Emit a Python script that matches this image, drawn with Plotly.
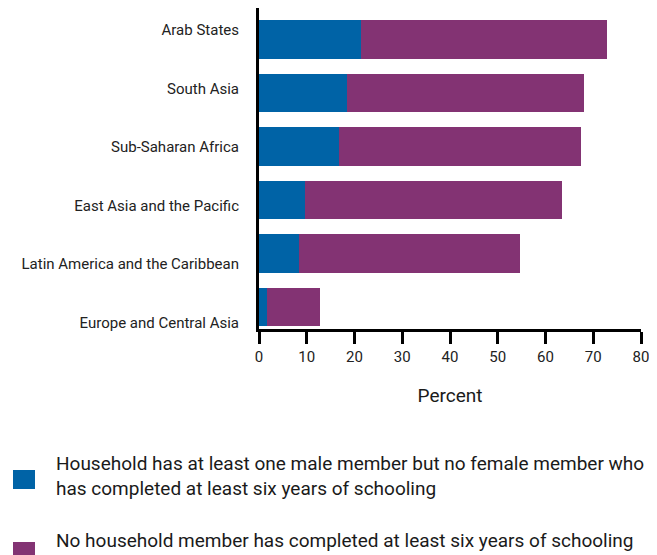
import plotly.graph_objects as go

# Regions, top to bottom
regions = [
    "Arab States",
    "South Asia",
    "Sub-Saharan Africa",
    "East Asia and the Pacific",
    "Latin America and the Caribbean",
    "Europe and Central Asia",
]

# Percent of households
male_only = [21.4, 18.4, 16.7, 9.6, 8.4, 1.6]
no_member = [51.5, 49.7, 50.7, 53.8, 46.2, 11.2]

series_names = [
    "Household has at least one male member but no female member who<br>has completed at least six years of schooling",
    "No household member has completed at least six years of schooling",
]
series_colors = ["#0063A6", "#833373"]

x_ticks = [0, 10, 20, 30, 40, 50, 60, 70, 80]

FONT = "Roboto, Arial, sans-serif"

# page has an 8px body margin, so the figure is a bit smaller than the window
OFF = 8
W, H = 657 - OFF, 555 - OFF
# plot area on screen: x 259..641, y 8..329
L, R, T, B = 259 - OFF, 657 - 641, 8 - OFF, 555 - 329
pw = W - L - R
ph = H - T - B


def px_x(p):
    return (p - OFF - L) / pw


def px_y(p):
    return (H - B - (p - OFF)) / ph


fig = go.Figure()

for vals, name, color in zip([male_only, no_member], series_names, series_colors):
    fig.add_trace(go.Bar(
        y=regions,
        x=vals,
        orientation="h",
        name=name,
        marker=dict(color=color, line=dict(width=0)),
        showlegend=False,
    ))

# the region labels sit on their own, slightly wider spaced axis
fig.add_trace(go.Scatter(
    y=regions, x=[None] * len(regions), yaxis="y2",
    mode="markers", showlegend=False, hoverinfo="skip",
))

# label centres on screen: first at y=30, spacing 58.5
lab0, lab_step = 30 - OFF, 58.5
y2_top = -(lab0 - T) / lab_step
y2_bot = (ph - (lab0 - T)) / lab_step

# bars sit a few pixels low in their slots
shift = 0.09

# hand-made legend (big squares, wrapped text)
legend_rows = [(476, 470, 489), (540, 542, 561)]
shapes = []
annotations = []
for (text_y, sq0, sq1), name, color in zip(legend_rows, series_names, series_colors):
    shapes.append(dict(
        type="rect", xref="paper", yref="paper",
        x0=px_x(13), x1=px_x(35), y0=px_y(sq0), y1=px_y(sq1),
        fillcolor=color, line=dict(width=0),
    ))
    annotations.append(dict(
        xref="paper", yref="paper", x=px_x(54), y=px_y(text_y),
        xanchor="left", yanchor="middle", align="left",
        text=name, showarrow=False,
        font=dict(family=FONT, size=19, color="#1a1a1a"),
    ))

fig.update_layout(
    barmode="stack",
    bargap=0.28,
    width=W,
    height=H,
    margin=dict(l=L, r=R, t=T, b=B, pad=0),
    paper_bgcolor="white",
    plot_bgcolor="white",
    font=dict(family=FONT, size=15, color="#222222"),
    shapes=shapes,
    annotations=annotations,
    xaxis=dict(
        range=[0, 80],
        tickvals=x_ticks,
        ticks="outside",
        ticklen=12,
        tickwidth=2.5,
        tickcolor="black",
        showline=True,
        linewidth=3,
        linecolor="black",
        showgrid=False,
        zeroline=False,
        tickfont=dict(size=15, color="#222222"),
        title=dict(text="Percent", font=dict(size=19, color="#1a1a1a"), standoff=24),
    ),
    yaxis=dict(
        type="category",
        categoryarray=regions,
        range=[len(regions) - 0.5 - shift, -0.5 - shift],
        showline=True,
        linewidth=3,
        linecolor="black",
        ticks="",
        showgrid=False,
        showticklabels=False,
    ),
    yaxis2=dict(
        overlaying="y",
        anchor="x",
        side="left",
        type="category",
        categoryarray=regions,
        range=[y2_bot, y2_top],
        ticks="",
        showline=False,
        showgrid=False,
        zeroline=False,
        ticklabelstandoff=19,
        tickfont=dict(size=15, color="#222222"),
    ),
)

fig.write_html("out.html")
